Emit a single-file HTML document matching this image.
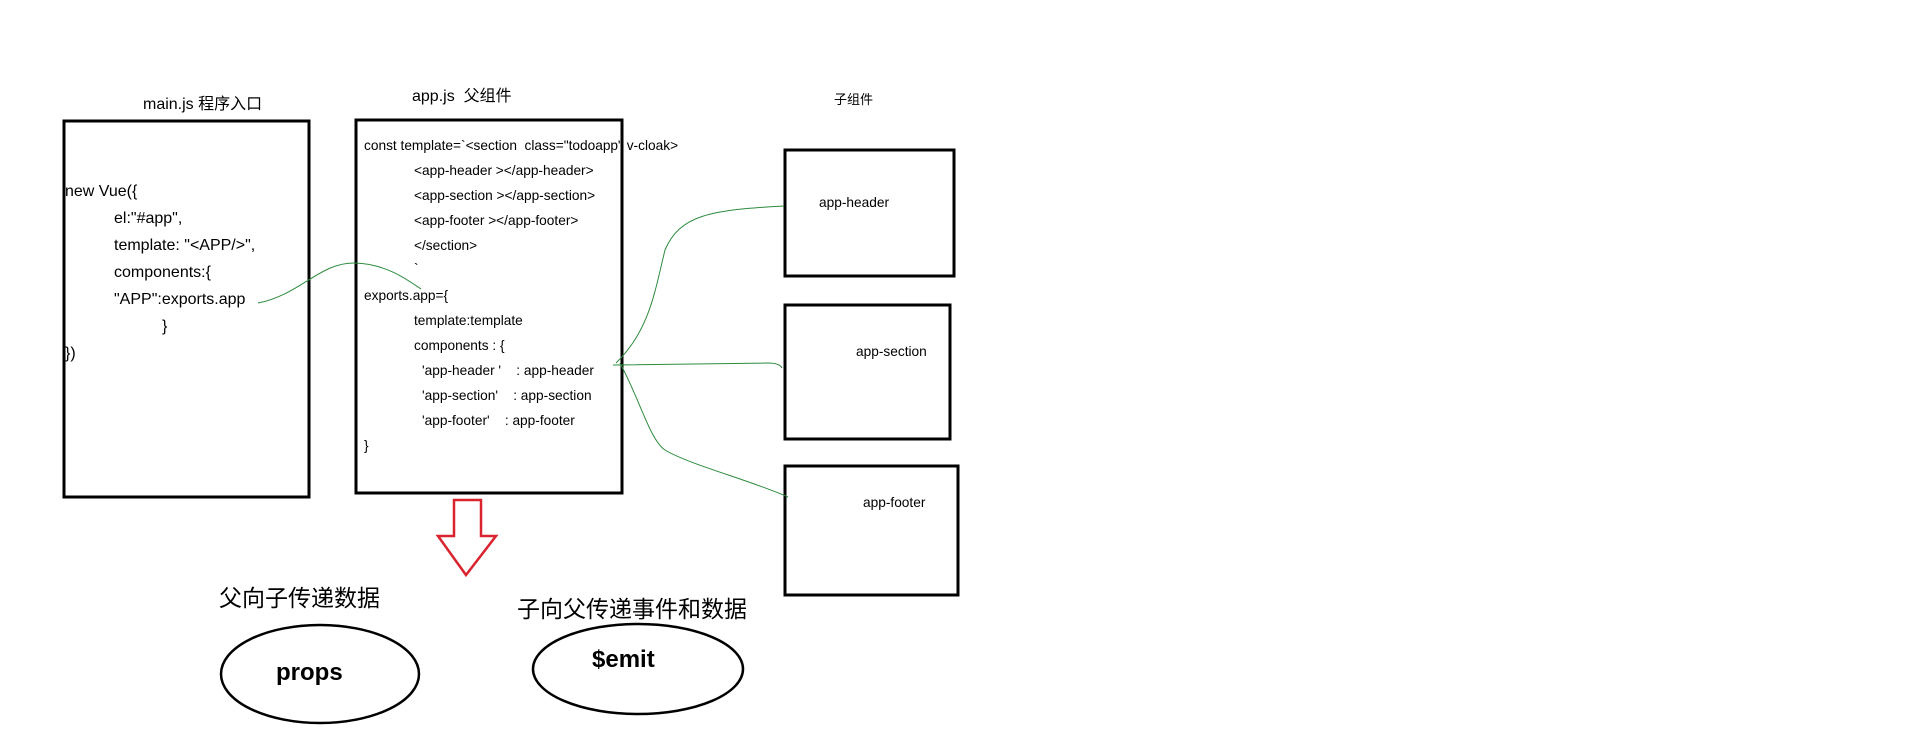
<!DOCTYPE html>
<html><head><meta charset="utf-8"><style>
body{margin:0;width:1914px;height:747px;background:#fff;position:relative;overflow:hidden;font-family:"Liberation Sans","Noto Sans CJK SC",sans-serif;color:#000}
.t{position:absolute;white-space:pre;line-height:1}
.c{font-size:13.7px}
.m{font-size:16px}
</style></head><body>
<svg width="1914" height="747" style="position:absolute;left:0;top:0">
<rect x="64" y="121" width="245" height="376" fill="none" stroke="#000" stroke-width="3"/>
<rect x="356" y="120" width="266" height="373" fill="none" stroke="#000" stroke-width="3"/>
<rect x="785" y="150" width="169" height="126" fill="none" stroke="#000" stroke-width="3"/>
<rect x="785" y="305" width="165" height="134" fill="none" stroke="#000" stroke-width="3"/>
<rect x="785" y="466" width="173" height="129" fill="none" stroke="#000" stroke-width="3"/>
<polygon points="454,500 481,500 481,536 496,536 466,575 438,536 454,536" fill="none" stroke="#d9232e" stroke-width="2.5"/>
<ellipse cx="320" cy="674" rx="99" ry="49" fill="none" stroke="#000" stroke-width="2.5"/>
<ellipse cx="638" cy="669" rx="105" ry="45" fill="none" stroke="#000" stroke-width="2.5"/>
<g fill="none" stroke="#2e8b3e" stroke-width="1">
<path d="M258,303 C300,295 320,262 355,263 C385,264 405,278 421,289"/>
<path d="M616,363 C650,330 655,290 665,250 C680,215 710,210 784,206"/>
<path d="M613,365 L768,363 C778,363 781,366 782,368"/>
<path d="M620,363 C640,400 650,440 665,450 C690,465 750,480 788,497"/>
</g>
</svg>
<div class="t" style="left:143px;top:97px;font-size:16px">main.js 程序入口</div>
<div class="t" style="left:412px;top:89px;font-size:16px">app.js &nbsp;父组件</div>
<div class="t" style="left:834px;top:93px;font-size:13px">子组件</div>
<div class="t m" style="left:65px;top:184px">new Vue({</div>
<div class="t m" style="left:114px;top:211px">el:"#app",</div>
<div class="t m" style="left:114px;top:238px">template: "&lt;APP/&gt;",</div>
<div class="t m" style="left:114px;top:265px">components:{</div>
<div class="t m" style="left:114px;top:292px">"APP":exports.app</div>
<div class="t m" style="left:162px;top:319px">}</div>
<div class="t m" style="left:65px;top:346px">})</div>
<div class="t c" style="left:364px;top:139px">const template=`&lt;section &nbsp;class="todoapp" v-cloak&gt;</div>
<div class="t c" style="left:414px;top:164px">&lt;app-header &gt;&lt;/app-header&gt;</div>
<div class="t c" style="left:414px;top:189px">&lt;app-section &gt;&lt;/app-section&gt;</div>
<div class="t c" style="left:414px;top:214px">&lt;app-footer &gt;&lt;/app-footer&gt;</div>
<div class="t c" style="left:414px;top:239px">&lt;/section&gt;</div>
<div class="t c" style="left:414px;top:262px">`</div>
<div class="t c" style="left:364px;top:289px">exports.app={</div>
<div class="t c" style="left:414px;top:314px">template:template</div>
<div class="t c" style="left:414px;top:339px">components : {</div>
<div class="t c" style="left:422px;top:364px">'app-header '&nbsp;&nbsp;&nbsp; : app-header</div>
<div class="t c" style="left:422px;top:389px">'app-section'&nbsp;&nbsp;&nbsp; : app-section</div>
<div class="t c" style="left:422px;top:414px">'app-footer'&nbsp;&nbsp;&nbsp; : app-footer</div>
<div class="t c" style="left:364px;top:439px">}</div>
<div class="t c" style="left:819px;top:196px">app-header</div>
<div class="t c" style="left:856px;top:345px">app-section</div>
<div class="t c" style="left:863px;top:496px">app-footer</div>
<div class="t" style="left:219px;top:587px;font-size:23px">父向子传递数据</div>
<div class="t" style="left:517px;top:598px;font-size:23px">子向父传递事件和数据</div>
<div class="t" style="left:276px;top:661px;font-size:24px;font-weight:bold">props</div>
<div class="t" style="left:592px;top:648px;font-size:24px;font-weight:bold">$emit</div>
</body></html>
